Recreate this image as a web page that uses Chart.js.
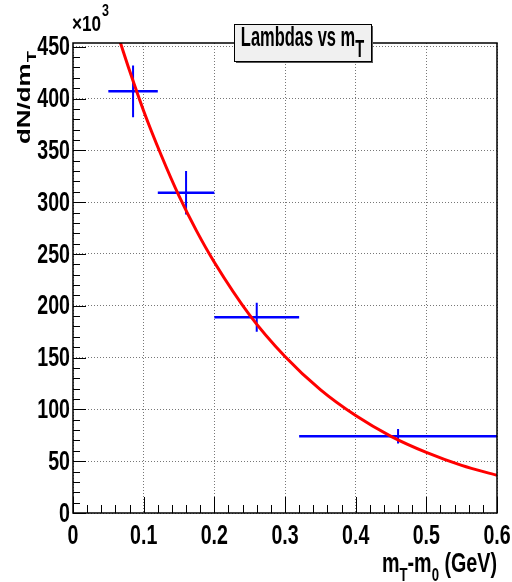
<!DOCTYPE html>
<html>
<head>
<meta charset="utf-8">
<script src="https://cdn.jsdelivr.net/npm/chart.js@4/dist/chart.umd.min.js"></script>
<style>
  body { margin: 0; background: #fff; }
  canvas { display: block; }
</style>
</head>
<body>
<canvas id="lambdaChart" width="512" height="582"></canvas>
<script>
// measured points (x in GeV, y in units of 10^3)
const pointX = [0.085, 0.16, 0.26, 0.46];
const binLow = [0.05, 0.12, 0.2, 0.32];
const binHigh = [0.12, 0.2, 0.32, 0.6];
const pointY = [407, 309, 189, 74];
const pointErr = [25, 21, 14, 7];

// fit curve
const fitX = [0.067, 0.08, 0.1, 0.125, 0.15, 0.175, 0.2, 0.25, 0.3, 0.35, 0.4, 0.45, 0.5, 0.55, 0.6];
const fitY = [454, 427, 388, 345, 306, 272, 242, 191, 151, 119, 94, 74, 58.5, 46, 36.4];

const xTicks = [0, 0.1, 0.2, 0.3, 0.4, 0.5, 0.6];
const xTickLabels = ["0", "0.1", "0.2", "0.3", "0.4", "0.5", "0.6"];
const yTicks = [0, 50, 100, 150, 200, 250, 300, 350, 400, 450];
const yTickLabels = ["0", "50", "100", "150", "200", "250", "300", "350", "400", "450"];

const hBars = [];
const vBars = [];
pointX.forEach((x, i) => {
    hBars.push({x: binLow[i], y: pointY[i]}, {x: binHigh[i], y: pointY[i]}, {x: binHigh[i], y: null});
    vBars.push({x: x, y: pointY[i] - pointErr[i]}, {x: x, y: pointY[i] + pointErr[i]}, {x: x, y: null});
});

const fitData = fitX.map((x, i) => ({x: x, y: fitY[i]}));

const BASE_FONT = "'Liberation Sans', Arial, sans-serif";

function drawPieces(ctx, pieces, x, y, sx) {
    // pieces: [text, fontPx, baselineShift]
    let cx = x;
    pieces.forEach(p => {
        ctx.font = "bold " + p[1] + "px " + BASE_FONT;
        ctx.save();
        ctx.translate(cx, y + p[2]);
        ctx.scale(sx, 1);
        ctx.fillText(p[0], 0, 0);
        ctx.restore();
        cx += ctx.measureText(p[0]).width * sx;
    });
    return cx - x;
}

function piecesWidth(ctx, pieces, sx) {
    let w = 0;
    pieces.forEach(p => {
        ctx.font = "bold " + p[1] + "px " + BASE_FONT;
        w += ctx.measureText(p[0]).width * sx;
    });
    return w;
}

function narrowText(ctx, text, x, y, sx, align) {
    const w = ctx.measureText(text).width * sx;
    let left = x;
    if (align === "right") left = x - w;
    if (align === "center") left = x - w / 2;
    ctx.save();
    ctx.translate(left, y);
    ctx.scale(sx, 1);
    ctx.fillText(text, 0, 0);
    ctx.restore();
}

const rootStyle = {
    id: "rootStyle",
    afterDraw(chart) {
        const ctx = chart.ctx;
        const area = chart.chartArea;
        const xs = chart.scales.x;
        const ys = chart.scales.y;

        ctx.save();
        ctx.strokeStyle = "#000";
        ctx.lineWidth = 1;

        // inward ticks
        ctx.beginPath();
        for (let v = 0; v <= 0.6001; v += 0.02) {
            const major = Math.abs(v * 10 - Math.round(v * 10)) < 1e-6;
            const px = Math.round(xs.getPixelForValue(v)) + 0.5;
            ctx.moveTo(px, area.bottom);
            ctx.lineTo(px, area.bottom - (major ? 16 : 8));
        }
        for (let v = 0; v <= 450.01; v += 10) {
            const major = v % 50 === 0;
            const py = Math.round(ys.getPixelForValue(v)) + 0.5;
            ctx.moveTo(area.left, py);
            ctx.lineTo(area.left + (major ? 13 : 7), py);
        }
        ctx.stroke();

        // frame
        ctx.lineWidth = 1.5;
        ctx.strokeRect(area.left, area.top, area.right - area.left, area.bottom - area.top);

        ctx.fillStyle = "#000";
        ctx.textAlign = "left";

        // tick labels
        ctx.font = "bold 28px " + BASE_FONT;
        ctx.textBaseline = "middle";
        yTicks.forEach((v, i) => {
            narrowText(ctx, yTickLabels[i], area.left - 3, ys.getPixelForValue(v) + 1, 0.7, "right");
        });
        ctx.textBaseline = "alphabetic";
        xTicks.forEach((v, i) => {
            narrowText(ctx, xTickLabels[i], xs.getPixelForValue(v), area.bottom + 31, 0.7, "center");
        });

        // x10^3
        ctx.font = "bold 22px " + BASE_FONT;
        ctx.save();
        ctx.translate(72, 31);
        ctx.scale(0.78, 1);
        ctx.fillText("\u00d710", 0, 0);
        const w10 = ctx.measureText("\u00d710").width * 0.78;
        ctx.restore();
        ctx.font = "bold 16px " + BASE_FONT;
        ctx.save();
        ctx.translate(72 + w10 + 1, 16);
        ctx.scale(0.78, 1);
        ctx.fillText("3", 0, 0);
        ctx.restore();

        // y title, rotated
        ctx.save();
        ctx.translate(30, 144);
        ctx.rotate(-Math.PI / 2);
        ctx.scale(1.08, 0.78);
        ctx.font = "bold 24px " + BASE_FONT;
        ctx.fillText("dN/dm", 0, 0);
        const wy = ctx.measureText("dN/dm").width;
        ctx.font = "bold 17px " + BASE_FONT;
        ctx.fillText("T", wy + 1, 8);
        ctx.restore();

        // x title
        const xt = [["m", 27, 0], ["T", 18, 9], ["-m", 27, 0], ["0", 18, 9], [" (GeV)", 27, 0]];
        const xw = piecesWidth(ctx, xt, 0.73);
        drawPieces(ctx, xt, 497 - xw, 572, 0.73);

        // title box
        const bx = 234, by = 24, bw = 137, bh = 37;
        ctx.fillStyle = "#555";
        ctx.fillRect(bx + 2, by + 2, bw, bh);
        ctx.fillStyle = "#f0f0f0";
        ctx.fillRect(bx, by, bw, bh);
        ctx.lineWidth = 1;
        ctx.strokeStyle = "#000";
        ctx.strokeRect(bx + 0.5, by + 0.5, bw, bh);
        ctx.fillStyle = "#000";
        const tt = [["Lambdas vs m", 27, 0], ["T", 24, 11]];
        const tw = piecesWidth(ctx, tt, 0.61);
        drawPieces(ctx, tt, bx + (bw - tw) / 2, 46, 0.61);

        ctx.restore();
    }
};

const canvas = document.getElementById("lambdaChart");
const ctx = canvas.getContext("2d");

new Chart(ctx, {
    type: "scatter",
    data: {
        datasets: [
            {
                label: "fit",
                data: fitData,
                showLine: true,
                borderColor: "#ff0000",
                borderWidth: 3,
                pointRadius: 0,
                cubicInterpolationMode: "monotone"
            },
            {
                label: "x bins",
                data: hBars,
                showLine: true,
                spanGaps: false,
                borderColor: "#0000ff",
                borderWidth: 2.5,
                pointRadius: 0
            },
            {
                label: "y errors",
                data: vBars,
                showLine: true,
                spanGaps: false,
                borderColor: "#0000ff",
                borderWidth: 2,
                pointRadius: 0
            }
        ]
    },
    options: {
        responsive: false,
        animation: false,
        events: [],
        layout: {
            padding: {top: 43, right: 15, left: 0, bottom: 0}
        },
        plugins: {
            legend: {display: false},
            tooltip: {enabled: false},
            title: {display: false}
        },
        scales: {
            x: {
                type: "linear",
                min: 0,
                max: 0.6,
                afterBuildTicks: scale => {
                    scale.ticks = xTicks.map(v => ({value: v}));
                },
                afterFit: scale => {
                    scale.height = 69;
                    scale.paddingLeft = 0;
                    scale.paddingRight = 0;
                },
                ticks: {display: false},
                grid: {
                    color: "#777",
                    lineWidth: 1,
                    drawTicks: false
                },
                border: {display: false, dash: [1, 2]}
            },
            y: {
                type: "linear",
                min: 0,
                max: 453.6,
                afterBuildTicks: scale => {
                    scale.ticks = yTicks.map(v => ({value: v}));
                },
                afterFit: scale => {
                    scale.width = 73;
                    scale.paddingTop = 0;
                    scale.paddingBottom = 0;
                },
                ticks: {display: false},
                grid: {
                    color: "#777",
                    lineWidth: 1,
                    drawTicks: false
                },
                border: {display: false, dash: [1, 2]}
            }
        }
    },
    plugins: [rootStyle]
});
</script>
</body>
</html>
